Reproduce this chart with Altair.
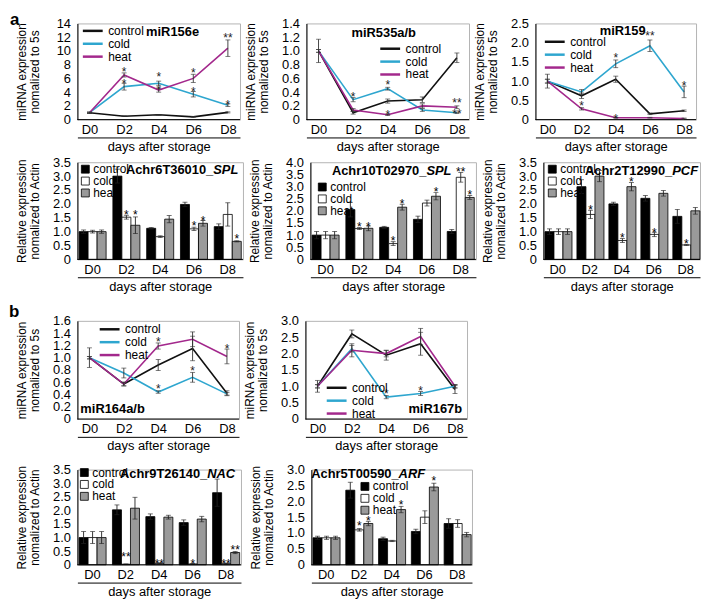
import altair as alt
import pandas as pd

DAYS = ["D0", "D2", "D4", "D6", "D8"]
GROUPS = ["control", "cold", "heat"]
LINE_COLORS = ["#111111", "#2ea6cf", "#a3288c"]
BAR_COLORS = ["#000000", "#ffffff", "#9a9a9a"]
FONT = "Liberation Sans"

# ---------------- panel a: miRNA line charts ----------------
m156_val = [[1.0, 0.5, 0.7, 0.4, 1.05], [1.0, 4.8, 5.3, 3.7, 2.1], [1.0, 6.5, 4.3, 6.0, 10.4]]
m156_err = [[0.05, 0.05, 0.05, 0.05, 0.08], [0.1, 0.5, 0.3, 0.4, 0.2], [0.1, 0.3, 0.3, 0.6, 1.2]]
m156_sday = ["D2", "D2", "D4", "D4", "D6", "D6", "D8", "D8"]
m156_sval = [7.4, 5.6, 6.7, 4.8, 7.2, 4.5, 12.3, 2.6]
m156_stxt = ["*", "*", "*", "*", "*", "*", "**", "*"]

m535_val = [[1.0, 0.1, 0.27, 0.29, 0.9], [1.0, 0.29, 0.45, 0.14, 0.1], [1.0, 0.14, 0.07, 0.2, 0.18]]
m535_err = [[0.17, 0.02, 0.03, 0.04, 0.07], [0.02, 0.03, 0.02, 0.02, 0.01], [0.02, 0.02, 0.01, 0.03, 0.02]]
m535_sday = ["D2", "D4", "D4", "D8", "D8"]
m535_sval = [0.37, 0.54, 0.11, 0.28, 0.13]
m535_stxt = ["*", "*", "*", "**", "**"]

m159_val = [[1.0, 0.62, 1.05, 0.15, 0.23], [1.0, 0.72, 1.45, 1.92, 0.72], [1.0, 0.28, 0.05, 0.05, 0.03]]
m159_err = [[0.18, 0.07, 0.08, 0.02, 0.02], [0.05, 0.06, 0.1, 0.15, 0.15], [0.05, 0.03, 0.01, 0.01, 0.01]]
m159_sday = ["D2", "D4", "D4", "D6", "D8"]
m159_sval = [0.43, 1.67, 0.1, 2.24, 0.95]
m159_stxt = ["*", "*", "*", "**", "*"]

# ---------------- panel a: target genes bar charts ----------------
spl6_val = [[1.0, 3.0, 1.12, 1.98, 1.18], [1.0, 1.52, 0.82, 1.1, 1.62], [1.0, 1.23, 1.45, 1.3, 0.65]]
spl6_err = [[0.06, 0.25, 0.03, 0.08, 0.1], [0.05, 0.07, 0.03, 0.06, 0.42], [0.06, 0.3, 0.13, 0.1, 0.02]]
spl6_sday = ["D2", "D2", "D6", "D6", "D8"]
spl6_sgrp = ["cold", "heat", "cold", "heat", "heat"]
spl6_sval = [1.72, 1.72, 1.3, 1.5, 0.85]
spl6_stxt = ["*", "*", "*", "*", "*"]

spl10_val = [[1.0, 2.05, 1.32, 1.65, 1.15], [1.0, 1.27, 0.65, 2.32, 3.38], [1.0, 1.28, 2.15, 2.6, 2.55]]
spl10_err = [[0.15, 0.3, 0.04, 0.13, 0.08], [0.15, 0.04, 0.08, 0.12, 0.2], [0.15, 0.1, 0.12, 0.15, 0.08]]
spl10_sday = ["D2", "D2", "D4", "D4", "D6", "D8", "D8"]
spl10_sgrp = ["cold", "heat", "cold", "heat", "heat", "cold", "heat"]
spl10_sval = [1.45, 1.47, 0.88, 2.42, 2.88, 3.72, 2.77]
spl10_stxt = ["*", "*", "*", "*", "*", "**", "*"]

pcf_val = [[1.0, 2.62, 2.0, 2.2, 1.55], [1.0, 1.62, 0.68, 0.9, 0.52], [1.0, 3.0, 2.62, 2.38, 1.75]]
pcf_err = [[0.1, 0.25, 0.06, 0.1, 0.25], [0.1, 0.15, 0.07, 0.08, 0.02], [0.1, 0.2, 0.15, 0.1, 0.12]]
pcf_sday = ["D2", "D4", "D4", "D6", "D8"]
pcf_sgrp = ["cold", "cold", "heat", "cold", "cold"]
pcf_sval = [1.87, 0.86, 2.88, 1.07, 0.66]
pcf_stxt = ["*", "*", "*", "*", "*"]

# ---------------- panel b ----------------
m164_val = [[1.0, 0.57, 0.88, 1.15, 0.42], [1.0, 0.75, 0.44, 0.68, 0.41], [1.0, 0.57, 1.19, 1.3, 1.02]]
m164_err = [[0.16, 0.03, 0.09, 0.2, 0.04], [0.02, 0.08, 0.02, 0.08, 0.02], [0.02, 0.03, 0.05, 0.12, 0.12]]
m164_sday = ["D4", "D4", "D6", "D8"]
m164_sval = [1.31, 0.54, 0.83, 1.19]
m164_stxt = ["*", "*", "*", "*"]

m167_val = [[1.0, 2.6, 1.95, 2.3, 0.9], [1.0, 2.15, 0.67, 0.78, 1.0], [1.0, 2.1, 2.0, 2.52, 1.0]]
m167_err = [[0.18, 0.12, 0.15, 0.35, 0.12], [0.05, 0.1, 0.05, 0.06, 0.05], [0.05, 0.2, 0.1, 0.25, 0.05]]
m167_sday = ["D4", "D6"]
m167_sval = [0.84, 0.96]
m167_stxt = ["*", "*"]

nac_val = [[1.0, 2.02, 1.77, 1.55, 2.65], [1.0, 0.02, 0.05, 0.03, 0.04], [1.0, 2.08, 1.75, 1.68, 0.45]]
nac_err = [[0.22, 0.18, 0.1, 0.1, 0.5], [0.22, 0.01, 0.02, 0.01, 0.02], [0.22, 0.4, 0.07, 0.1, 0.04]]
nac_sday = ["D2", "D4", "D6", "D8", "D8"]
nac_sgrp = ["cold", "cold", "cold", "cold", "heat"]
nac_sval = [0.4, 0.15, 0.13, 0.15, 0.64]
nac_stxt = ["**", "**", "*", "**", "**"]

arf_val = [[0.85, 2.35, 0.82, 1.05, 1.3], [0.85, 1.1, 0.75, 1.5, 1.3], [0.85, 1.3, 1.74, 2.45, 0.95]]
arf_err = [[0.05, 0.25, 0.05, 0.07, 0.15], [0.05, 0.04, 0.02, 0.2, 0.12], [0.05, 0.07, 0.1, 0.12, 0.07]]
arf_sday = ["D2", "D2", "D4", "D6"]
arf_sgrp = ["cold", "heat", "heat", "heat"]
arf_sval = [1.32, 1.48, 1.98, 2.72]
arf_stxt = ["*", "*", "*", "*"]

MIR_TITLE = ["miRNA expression", "nomalized to 5s"]
REL_TITLE = ["Relative expression", "nomalized to Actin"]


def x_axis():
    return alt.Axis(title="days after storage", labelAngle=0, labelFontSize=13, titleFontSize=13,
                    titleFontWeight="normal", labelColor="black", titleColor="black",
                    domainColor="black", domainWidth=1, ticks=False, tickSize=0,
                    offset=18, labelPadding=-14, titlePadding=3, grid=False,
                    labelFlush=False, labelOverlap=False)


def y_axis(title, ymax, step, dec):
    n = int(round(ymax / step))
    vals = [round(i * step, 2) for i in range(n + 1)]
    expr = "datum.value == 0 ? '0' : format(datum.value, '.1f')" if dec else "format(datum.value, 'd')"
    return alt.Axis(title=title, values=vals, labelExpr=expr, labelFontSize=13, titleFontSize=12,
                    titleFontWeight="normal", labelColor="black", titleColor="black",
                    domainColor="black", domainWidth=1, ticks=False, tickSize=0, labelPadding=7,
                    minExtent=26, maxExtent=26, titlePadding=10, grid=False, titleLineHeight=13,
                    labelFlush=False, labelOverlap=False)


def make_df(vals, errs):
    rows = []
    for g, vs, es in zip(GROUPS, vals, errs):
        for d, v, e in zip(DAYS, vs, es):
            rows.append({"day": d, "group": g, "value": v, "lo": v - e, "hi": v + e})
    return pd.DataFrame(rows)


def text_layer(txt, x, y, align="left", weight="bold", size=13, style="normal", baseline="middle"):
    return alt.Chart(pd.DataFrame({"t": [txt]})).mark_text(
        fontWeight=weight, fontSize=size, fontStyle=style, align=align, baseline=baseline, color="black"
    ).encode(x=alt.value(x), y=alt.value(y), text="t:N")


def line_panel(vals, errs, sday, sval, stxt, ymax, step, dec, w, h, leg, title, extra):
    df = make_df(vals, errs)
    sdf = pd.DataFrame({"day": sday, "value": sval, "txt": stxt})
    xs = alt.Scale(type="point", domain=DAYS, padding=0.35)
    ys = alt.Scale(domain=[0, ymax], nice=False)
    yax = y_axis(MIR_TITLE, ymax, step, dec)
    X = alt.X("day:O", scale=xs, axis=x_axis())

    def Y(f):
        return alt.Y(f + ":Q", scale=ys, axis=yax)

    base = alt.Chart(df)
    zero = alt.Chart(pd.DataFrame({"z": [0]})).mark_rule(color="black", strokeWidth=1).encode(y=Y("z"))
    lines = base.mark_line(strokeWidth=1.6).encode(
        x=X, y=Y("value"),
        color=alt.Color("group:N", scale=alt.Scale(domain=GROUPS, range=LINE_COLORS),
                        legend=alt.Legend(orient="none", legendX=leg[0] + 5, legendY=leg[1], title=None,
                                          symbolType="M-2,0H2", symbolSize=100, symbolStrokeWidth=2.5,
                                          labelFontSize=12, labelColor="black", rowPadding=0, padding=0,
                                          labelOffset=9)))
    err = base.mark_rule(color="#333333", strokeWidth=0.9).encode(x=X, y=Y("lo"), y2="hi:Q")
    cap1 = base.mark_tick(color="#333333", thickness=0.9, size=5).encode(x=X, y=Y("lo"))
    cap2 = base.mark_tick(color="#333333", thickness=0.9, size=5).encode(x=X, y=Y("hi"))
    stars = alt.Chart(sdf).mark_text(fontSize=12, color="#222222", baseline="middle", dy=3).encode(
        x=X, y=Y("value"), text="txt:N")
    layers = [zero, lines, err, cap1, cap2, stars, text_layer(title[0], title[1], title[2], align=title[3])]
    layers += extra
    return alt.layer(*layers).properties(width=w, height=h)


def bar_panel(vals, errs, sday, sgrp, sval, stxt, ymax, step, w, h, leg, title, extra):
    df = make_df(vals, errs)
    sdf = pd.DataFrame({"day": sday, "group": sgrp, "value": sval, "txt": stxt})
    xs = alt.Scale(domain=DAYS, paddingInner=0.2, paddingOuter=0.05)
    ys = alt.Scale(domain=[0, ymax], nice=False)
    yax = y_axis(REL_TITLE, ymax, step, True)
    X = alt.X("day:N", scale=xs, axis=x_axis())
    XO = alt.XOffset("group:N", scale=alt.Scale(domain=GROUPS, paddingInner=0, paddingOuter=0))

    def Y(f):
        return alt.Y(f + ":Q", scale=ys, axis=yax)

    base = alt.Chart(df)
    bars = base.mark_bar(stroke="black", strokeWidth=0.8).encode(
        x=X, xOffset=XO, y=Y("value"),
        color=alt.Color("group:N", scale=alt.Scale(domain=GROUPS, range=BAR_COLORS),
                        legend=alt.Legend(orient="none", legendX=leg[0], legendY=leg[1], title=None,
                                          symbolType="square", symbolSize=64, symbolStrokeColor="black",
                                          symbolStrokeWidth=0.8, labelFontSize=12, labelColor="black",
                                          rowPadding=-2, padding=0, labelOffset=2)))
    err = base.mark_rule(color="#222222", strokeWidth=0.9).encode(x=X, xOffset=XO, y=Y("lo"), y2="hi:Q")
    cap1 = base.mark_tick(color="#222222", thickness=0.9, size=5).encode(x=X, xOffset=XO, y=Y("lo"))
    cap2 = base.mark_tick(color="#222222", thickness=0.9, size=5).encode(x=X, xOffset=XO, y=Y("hi"))
    stars = alt.Chart(sdf).mark_text(fontSize=12, color="black", baseline="middle", dy=3).encode(
        x=X, xOffset=XO, y=Y("value"), text="txt:N")
    zero = alt.Chart(pd.DataFrame({"z": [0]})).mark_rule(color="black", strokeWidth=1).encode(y=Y("z"))
    t1 = text_layer(title[0], title[2], title[3], align="right")
    t2 = text_layer(title[1], title[2], title[3], align="left", style="italic")
    layers = [bars, err, cap1, cap2, stars, zero, t1, t2] + extra
    return alt.layer(*layers).properties(width=w, height=h)


p1 = line_panel(m156_val, m156_err, m156_sday, m156_sval, m156_stxt, 14, 2, False, 164, 97,
                (4, 1), ("miR156e", 96, 9, "center"),
                [text_layer("a", -68, -11, size=17, baseline="top")])
p2 = line_panel(m535_val, m535_err, m535_sday, m535_sval, m535_stxt, 1.4, 0.2, True, 164, 97,
                (73, 19), ("miR535a/b", 78, 10, "center"), [])
p3 = line_panel(m159_val, m159_err, m159_sday, m159_sval, m159_stxt, 2.5, 0.5, True, 162, 97,
                (8, 12), ("miR159", 88, 8, "center"), [])

p4 = bar_panel(spl6_val, spl6_err, spl6_sday, spl6_sgrp, spl6_sval, spl6_stxt, 3.5, 0.5, 167, 98,
               (2, 1), ("Achr6T36010_", "SPL", 137, 8),
               [text_layer(" ", -65, 50), text_layer(" ", -65, 98 + 28, baseline="top")])
p5 = bar_panel(spl10_val, spl10_err, spl10_sday, spl10_sgrp, spl10_sval, spl10_stxt, 4.0, 0.5, 167, 98,
               (6, 19), ("Achr10T02970_", "SPL", 117, 9), [])
p6 = bar_panel(pcf_val, pcf_err, pcf_sday, pcf_sgrp, pcf_sval, pcf_stxt, 3.5, 0.5, 158, 98,
               (3, 1), ("Achr2T12990_", "PCF", 130, 9), [])

p7 = line_panel(m164_val, m164_err, m164_sday, m164_sval, m164_stxt, 1.6, 0.2, True, 163, 99,
                (21, 2), ("miR164a/b", 3, 89, "left"),
                [text_layer("b", -69, -17, size=17, baseline="top"),
                 text_layer(" ", -69, 99 + 29, baseline="top")])
p8 = line_panel(m167_val, m167_err, m167_sday, m167_sval, m167_stxt, 3.0, 0.5, True, 163, 99,
                (20, 61), ("miR167b", 158, 89, "right"), [])

p9 = bar_panel(nac_val, nac_err, nac_sday, nac_sgrp, nac_sval, nac_stxt, 3.5, 0.5, 165, 96,
               (1, -3), ("Achr9T26140_", "NAC", 131, 4), [text_layer(" ", -64, 50)])
p10 = bar_panel(arf_val, arf_err, arf_sday, arf_sgrp, arf_sval, arf_stxt, 3.0, 0.5, 162, 96,
                (48, 11), ("Achr5T00590_", "ARF", 88, 4), [])

row1 = alt.hconcat(p1, p2, p3, spacing=67, bounds="flush").resolve_scale(color="independent")
row2 = alt.hconcat(p4, p5, p6, spacing=68, bounds="flush").resolve_scale(color="independent")
row3 = alt.hconcat(p7, p8, spacing=67, bounds="flush").resolve_scale(color="independent")
row4 = alt.hconcat(p9, p10, spacing=71, bounds="flush").resolve_scale(color="independent")

chart = alt.vconcat(row1, row2, row3, row4, spacing=1).resolve_scale(color="independent").properties(
    padding={"left": 0, "top": 0, "right": 0, "bottom": 0}
).configure(font=FONT).configure_view(stroke="#b3b3b3", strokeWidth=1)

chart.save("out.html", embed_options={"renderer": "svg", "actions": False})
